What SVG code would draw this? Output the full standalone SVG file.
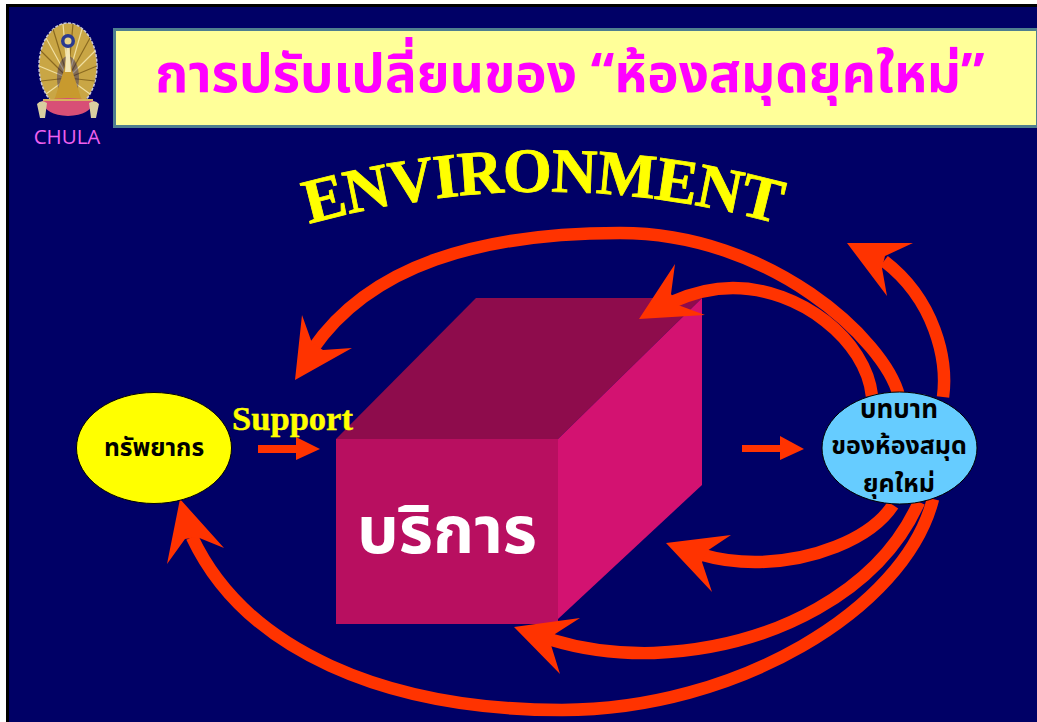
<svg xmlns="http://www.w3.org/2000/svg" width="1037" height="722" viewBox="0 0 1037 722">
<defs>
<style>
.curve{fill:none;stroke:#FF3300;stroke-width:12.500}
.head{fill:#FF3300}
.thai{font-family:"Noto Sans Thai","Noto Sans","Liberation Sans","DejaVu Sans",sans-serif;font-weight:700;text-anchor:middle}
.lab{font-size:25px;fill:#000}
.ray{stroke:#8A6A20;stroke-width:1.200;fill:none}
.ray2{stroke:#F0DFA0;stroke-width:1.200;fill:none}
</style>
<path id="envArc" d="M309 224Q540 160 775 223" fill="none"/>
</defs>
<rect width="1037" height="722" fill="#fff"/>
<rect x="6" y="4" width="1031" height="718" fill="#000"/>
<rect x="9" y="7" width="1028" height="715" fill="#000066"/>
<g id="banner"><rect x="114.500" y="29.500" width="923" height="97" fill="#FFFF99" stroke="#4F7F8F" stroke-width="3"/>
<text class="thai" x="570" y="92" font-size="53" fill="#FF00FF">การปรับเปลี่ยนของ “ห้องสมุดยุคใหม่”</text></g>
<g id="logo">
<ellipse cx="68" cy="66" rx="29" ry="43" fill="#C9A645" stroke="#C8C8D8" stroke-width="1.500" stroke-dasharray="3 1.500"/>
<path class="ray" d="M68 78L97 66M68 78L90 38M68 78L73 24M68 78L53 29M68 78L41 51M68 78L41 81M68 78L95 81"/>
<path class="ray2" d="M68 78L95 51M68 78L82 29M68 78L63 24M68 78L46 38M68 78L39 66M68 78L46 94M68 78L90 94"/>
<ellipse cx="68" cy="78" rx="11" ry="22" fill="#000066" opacity=".35"/>
<path d="M68 46L72 70L82 101H54L64 70Z" fill="#C89A2E"/>
<path d="M66.500 46H69.500L71 72H65Z" fill="#F3E6B5"/>
<circle cx="68" cy="41" r="7" fill="#2A3A90"/>
<circle cx="68" cy="41" r="3.500" fill="#E8D48A"/>
<path d="M42 101Q68 95 94 101Q91 115 68 116Q45 115 42 101Z" fill="#D84F76"/>
<path d="M43 100H93" stroke="#D8B060" stroke-width="2"/>
<path d="M37 104Q41 99 47 103L45 118H40ZM99 104Q95 99 89 103L91 118H96Z" fill="#D8CFA0"/>
<text x="67" y="144" font-family="'Open Sans',sans-serif" font-size="20.500" fill="#F060F0" text-anchor="middle">CHULA</text>
</g>
<text id="env" font-family="'Liberation Serif',serif" font-weight="700" font-size="63" letter-spacing="-1.200" fill="#FFFF00" stroke="#FFFF00" stroke-width=".8"><textPath href="#envArc" startOffset="0">ENVIRONMENT</textPath></text>
<g id="box">
<polygon points="336,439 476,298 702,298 558,439" fill="#8E0C4C"/>
<polygon points="558,439 702,298 702,485 558,619" fill="#D31271"/>
<rect x="336" y="439" width="222" height="185" fill="#B80F60"/>
<text class="thai" x="447" y="553" font-size="66" fill="#fff">บริการ</text>
</g>
<g id="connectors">
<path class="curve" d="M899 396C885 340 770 233 620 233C480 233 370 265 312 350"/>
<polygon class="head" points="295,380 302,315 312,343 323,350 352,348"/>
<path class="curve" d="M872 396C866 340 800 288 733 288C712 288 692 293 672 302"/>
<polygon class="head" points="639,319 675,264 671,294 678,305 705,315"/>
<path class="curve" d="M943 397C948 360 935 300 884 261"/>
<polygon class="head" points="847,243 913,243 885,256 882,268 887,296"/>
<path class="curve" d="M893 505C870 540 810 562 755 562C735 562 720 560 703 555"/>
<polygon class="head" points="666,543 731,535 707,551 702,562 712,592"/>
<path class="curve" d="M919 502C880 590 775 648 654 653C615 654 585 650 552 640"/>
<polygon class="head" points="514,627 580,618 555,634 551,645 560,674"/>
<path class="curve" d="M933 499C905 610 735 710 562 710C385 710 245 650 192 537"/>
<polygon class="head" points="180,499 167,564 185,539 197,537 224,548"/>
<polygon class="head" points="258,445 296,445 296,437 320,449 296,460 296,453 258,453"/>
<polygon class="head" points="742,445 780,445 780,436 804,449 780,460 780,452 742,452"/>
</g>
<g id="resource"><ellipse cx="154" cy="448" rx="77.500" ry="55.500" fill="#FFFF00" stroke="#000"/>
<text class="thai lab" x="154" y="456" style="font-size:24.500px">ทรัพยากร</text></g>
<text id="support" x="292.500" y="430" font-family="'Liberation Serif',serif" font-weight="700" font-size="34.500" fill="#FFFF00" stroke="#FFFF00" stroke-width=".4" text-anchor="middle">Support</text>
<g id="role"><ellipse cx="899.500" cy="448" rx="77.500" ry="56" fill="#66CCFF" stroke="#000"/>
<text class="thai lab" x="899" y="418" style="font-size:26px">บทบาท</text>
<text class="thai lab" x="899" y="454">ของห้องสมุด</text>
<text class="thai lab" x="899" y="492">ยุคใหม่</text></g>
</svg>
